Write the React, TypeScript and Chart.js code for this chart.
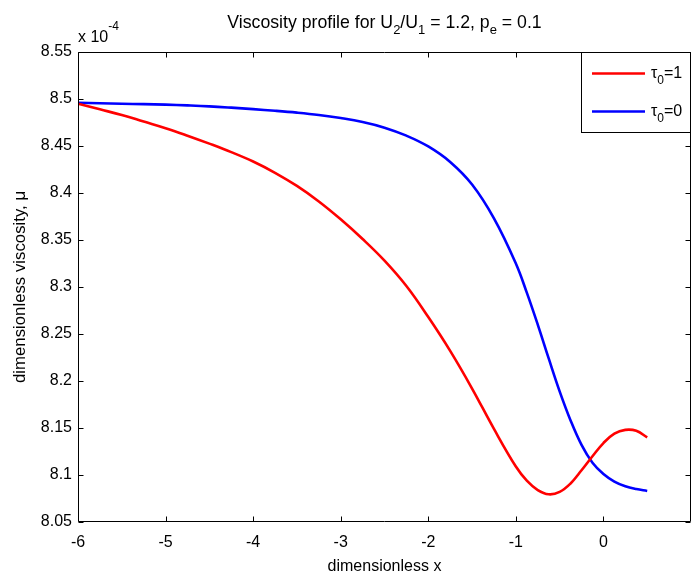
import { useEffect, useRef } from 'react';
import { Chart, registerables } from 'chart.js';

Chart.register(...registerables);

const xValues = [-6, -5.75, -5.5, -5.25, -5, -4.75, -4.5, -4.25, -4, -3.75, -3.5, -3.25, -3, -2.75, -2.5, -2.25, -2, -1.75, -1.5, -1.25, -1, -0.875, -0.75, -0.625, -0.5, -0.375, -0.25, -0.125, 0, 0.125, 0.25, 0.375, 0.5];
const tau1Values = [8.495, 8.489, 8.483, 8.476, 8.469, 8.461, 8.4525, 8.4435, 8.4335, 8.4215, 8.4075, 8.391, 8.372, 8.351, 8.328, 8.301, 8.268, 8.232, 8.192, 8.149, 8.109, 8.094, 8.084, 8.0795, 8.082, 8.091, 8.105, 8.120, 8.134, 8.144, 8.148, 8.147, 8.140];
const tau0Values = [8.496, 8.4955, 8.495, 8.4945, 8.494, 8.4932, 8.4922, 8.4908, 8.4892, 8.4875, 8.4855, 8.483, 8.4797, 8.4755, 8.4695, 8.461, 8.4495, 8.433, 8.409, 8.373, 8.325, 8.294, 8.260, 8.224, 8.189, 8.158, 8.132, 8.113, 8.101, 8.093, 8.088, 8.085, 8.083];

const xTickValues = [-6, -5, -4, -3, -2, -1, 0];
const xTickLabels = ['-6', '-5', '-4', '-3', '-2', '-1', '0'];
const yTickValues = [8.05, 8.1, 8.15, 8.2, 8.25, 8.3, 8.35, 8.4, 8.45, 8.5, 8.55];
const yTickLabels = ['8.05', '8.1', '8.15', '8.2', '8.25', '8.3', '8.35', '8.4', '8.45', '8.5', '8.55'];

const xMin = -6;
const xMax = 1;
const yMin = 8.05;
const yMax = 8.55;

const titleParts = [
  { t: 'Viscosity profile for U' },
  { t: '2', sub: true },
  { t: '/U' },
  { t: '1', sub: true },
  { t: ' = 1.2, p' },
  { t: 'e', sub: true },
  { t: ' = 0.1' },
];
const exponentParts = [{ t: 'x 10' }, { t: '-4', sup: true }];
const seriesLegend = [
  [{ t: 'τ' }, { t: '0', sub: true }, { t: '=1' }],
  [{ t: 'τ' }, { t: '0', sub: true }, { t: '=0' }],
];
const seriesColors = ['#ff0000', '#0000ff'];
const xTitle = 'dimensionless x';
const yTitle = 'dimensionless viscosity, μ';

const FAMILY = '"Liberation Sans", Arial, Helvetica, sans-serif';

type Part = { t: string; sub?: boolean; sup?: boolean };

function drawRich(ctx: CanvasRenderingContext2D, parts: Part[], x: number, y: number, align: 'left' | 'center', size: number, subSize: number) {
  const main = `${size}px ${FAMILY}`;
  const small = `${subSize}px ${FAMILY}`;
  const widths = parts.map((p) => {
    ctx.font = p.sub || p.sup ? small : main;
    return ctx.measureText(p.t).width;
  });
  const total = widths.reduce((a, b) => a + b, 0);
  let cx = align === 'center' ? x - total / 2 : x;
  ctx.textAlign = 'left';
  ctx.textBaseline = 'middle';
  parts.forEach((p, i) => {
    ctx.font = p.sub || p.sup ? small : main;
    const dy = p.sub ? size * 0.42 : p.sup ? -size * 0.7 : 0;
    ctx.fillText(p.t, cx, y + dy);
    cx += widths[i];
  });
}

const matlabPlugin = {
  id: 'matlabDecor',
  afterDraw(chart: any) {
    const { ctx, chartArea, scales } = chart;
    const { left, right, top, bottom } = chartArea;
    const xs = scales.x;
    const ys = scales.y;
    ctx.save();
    ctx.strokeStyle = '#000';
    ctx.lineWidth = 1;
    const L = Math.round(left) + 0.5;
    const R = Math.round(right) - 0.5;
    const T = Math.round(top) + 0.5;
    const B = Math.round(bottom) - 0.5;
    ctx.beginPath();
    ctx.rect(L, T, R - L, B - T);
    ctx.stroke();
    const tl = 5;
    ctx.beginPath();
    xTickValues.forEach((v) => {
      const px = Math.round(xs.getPixelForValue(v)) + 0.5;
      ctx.moveTo(px, B);
      ctx.lineTo(px, B - tl);
      ctx.moveTo(px, T);
      ctx.lineTo(px, T + tl);
    });
    yTickValues.forEach((v) => {
      const py = Math.round(ys.getPixelForValue(v)) + 0.5;
      ctx.moveTo(L, py);
      ctx.lineTo(L + tl, py);
      ctx.moveTo(R, py);
      ctx.lineTo(R - tl, py);
    });
    ctx.stroke();

    ctx.fillStyle = '#000';
    drawRich(ctx, titleParts, (left + right) / 2, 23, 'center', 17.7, 13);
    drawRich(ctx, exponentParts, left, 38, 'left', 16, 12);

    const lx = 581.5;
    const ly = T;
    ctx.fillStyle = '#fff';
    ctx.fillRect(lx, ly, R - lx, 80);
    ctx.strokeStyle = '#000';
    ctx.lineWidth = 1;
    ctx.strokeRect(lx, ly, R - lx, 80);
    seriesLegend.forEach((parts, i) => {
      const yy = ly + 21 + i * 38;
      ctx.strokeStyle = seriesColors[i];
      ctx.lineWidth = 2.5;
      ctx.beginPath();
      ctx.moveTo(592, yy);
      ctx.lineTo(645, yy);
      ctx.stroke();
      ctx.fillStyle = '#000';
      drawRich(ctx, parts, 651, yy, 'left', 16, 12);
    });
    ctx.restore();
  },
};

export default function App() {
  const ref = useRef<HTMLCanvasElement>(null);
  useEffect(() => {
    if (!ref.current) return;
    const tickFont = { family: FAMILY, size: 16 };
    const chart = new Chart(ref.current, {
      type: 'line',
      data: {
        datasets: [
          {
            label: 'tau0=1',
            data: xValues.map((x, i) => ({ x, y: tau1Values[i] })),
            borderColor: seriesColors[0],
            borderWidth: 2.6,
            pointRadius: 0,
            tension: 0.4,
            fill: false,
          },
          {
            label: 'tau0=0',
            data: xValues.map((x, i) => ({ x, y: tau0Values[i] })),
            borderColor: seriesColors[1],
            borderWidth: 2.6,
            pointRadius: 0,
            tension: 0.4,
            fill: false,
          },
        ],
      },
      options: {
        animation: false,
        responsive: true,
        maintainAspectRatio: false,
        layout: { padding: { top: 52, right: 1, left: 0, bottom: 0 } },
        plugins: {
          legend: { display: false },
          title: { display: false },
          tooltip: { enabled: false },
        },
        scales: {
          x: {
            type: 'linear',
            min: xMin,
            max: xMax,
            grid: { display: false, drawTicks: false },
            border: { display: false },
            afterBuildTicks: (s: any) => {
              s.ticks = xTickValues.map((v) => ({ value: v }));
            },
            afterFit: (s: any) => {
              s.height = 52;
            },
            ticks: {
              autoSkip: false,
              maxRotation: 0,
              color: '#000',
              font: tickFont,
              padding: 11,
              callback: (_v: any, i: number) => xTickLabels[i],
            },
            title: {
              display: true,
              text: xTitle,
              color: '#000',
              font: tickFont,
              padding: { top: 0, bottom: -2 },
            },
          },
          y: {
            type: 'linear',
            min: yMin,
            max: yMax,
            grid: { display: false, drawTicks: false },
            border: { display: false },
            afterBuildTicks: (s: any) => {
              s.ticks = yTickValues.map((v) => ({ value: v }));
            },
            afterFit: (s: any) => {
              s.width = 78;
            },
            ticks: {
              autoSkip: false,
              color: '#000',
              font: tickFont,
              padding: 6,
              callback: (_v: any, i: number) => yTickLabels[i],
            },
            title: {
              display: true,
              text: yTitle,
              color: '#000',
              font: { family: FAMILY, size: 16.8 },
              padding: { top: 10, bottom: 0 },
            },
          },
        },
      },
      plugins: [matlabPlugin],
    } as any);
    return () => chart.destroy();
  }, []);
  return (
    <div style={{ position: 'fixed', left: 0, top: 0, width: 692, height: 574, background: '#fff' }}>
      <canvas ref={ref} />
    </div>
  );
}
